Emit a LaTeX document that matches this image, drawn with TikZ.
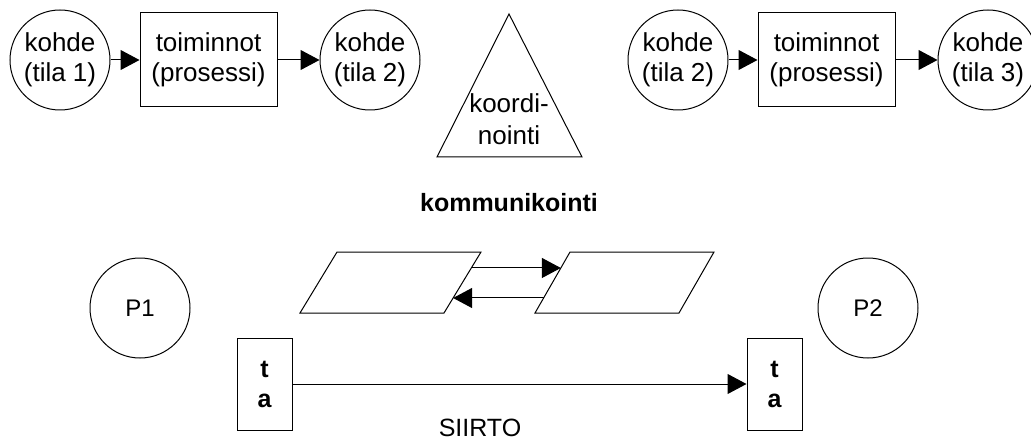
\documentclass[tikz,border=0pt]{standalone}
\usepackage{fontspec}
\setmainfont{Liberation Sans}
\usetikzlibrary{arrows.meta,calc}
\begin{document}
\begin{tikzpicture}[x=1pt,y=-1pt,
  base/.style={draw, line width=1pt, inner sep=0pt, align=center, font=\fontsize{26}{30}\selectfont},
  state/.style={base, circle, minimum size=100pt},
  proc/.style={base, rectangle, minimum width=137pt, minimum height=94pt},
  tabox/.style={base, rectangle, minimum width=55pt, minimum height=92pt, font=\bfseries\fontsize{25}{30}\selectfont},
  arr/.style={line width=1pt, -{Triangle[length=19pt,width=20pt]}},
  lbl/.style={inner sep=0pt, font=\fontsize{25}{30}\selectfont},
  shapeline/.style={draw, line width=1pt}
]
\useasboundingbox (0,0) rectangle (1031,441);
% left group
\node[state] (c1) at (60,60) {kohde\\(tila 1)};
\node[proc]  (b1) at (208.5,60) {toiminnot\\(prosessi)};
\node[state] (c2) at (370,60) {kohde\\(tila 2)};
\draw[arr] (c1) -- (b1);
\draw[arr] (b1) -- (c2);
% right group
\node[state] (c3) at (678,60) {kohde\\(tila 2)};
\node[proc]  (b2) at (826.5,60) {toiminnot\\(prosessi)};
\node[state] (c4) at (988,60) {kohde\\(tila 3)};
\draw[arr] (c3) -- (b2);
\draw[arr] (b2) -- (c4);
% triangle
\draw[shapeline] (509,14) coordinate (tA) -- (582,157) coordinate (tR) -- (437,157) coordinate (tL) -- cycle;
\node[lbl, anchor=base, font=\fontsize{26}{30}\selectfont] (koord) at (509,113) {koordi-};
\node[lbl, anchor=base, font=\fontsize{26}{30}\selectfont] (noint) at (509,145) {nointi};
\node[lbl, font=\bfseries\fontsize{25}{30}\selectfont] (komm) at (509,203) {kommunikointi};
% parallelograms
\draw[shapeline] (337,252) coordinate (q1tl) -- (481,252) coordinate (q1tr) -- (444,313) coordinate (q1br) -- (300,313) coordinate (q1bl) -- cycle;
\draw[shapeline] (570,252) coordinate (q2tl) -- (714,252) coordinate (q2tr) -- (679,313) coordinate (q2br) -- (535,313) coordinate (q2bl) -- cycle;
\coordinate (q1o) at ($(q1tr)!0.262!(q1br)$);
\coordinate (q2i) at ($(q2tl)!0.262!(q2bl)$);
\coordinate (q2o) at ($(q2tl)!0.754!(q2bl)$);
\coordinate (q1i) at ($(q1tr)!0.754!(q1br)$);
\draw[arr] (q1o) -- (q2i);
\draw[arr] (q2o) -- (q1i);
% processes
\node[state, font=\fontsize{24}{28}\selectfont] (p1) at (140,308) {P1};
\node[state, font=\fontsize{24}{28}\selectfont] (p2) at (868,308) {P2};
% transfer
\node[tabox] (ta1) at (264.5,384) {t\\a};
\node[tabox] (ta2) at (774.5,384) {t\\a};
\draw[arr] (ta1) -- (ta2);
\node[lbl] (siirto) at (480,428) {SIIRTO};
\end{tikzpicture}
\end{document}
